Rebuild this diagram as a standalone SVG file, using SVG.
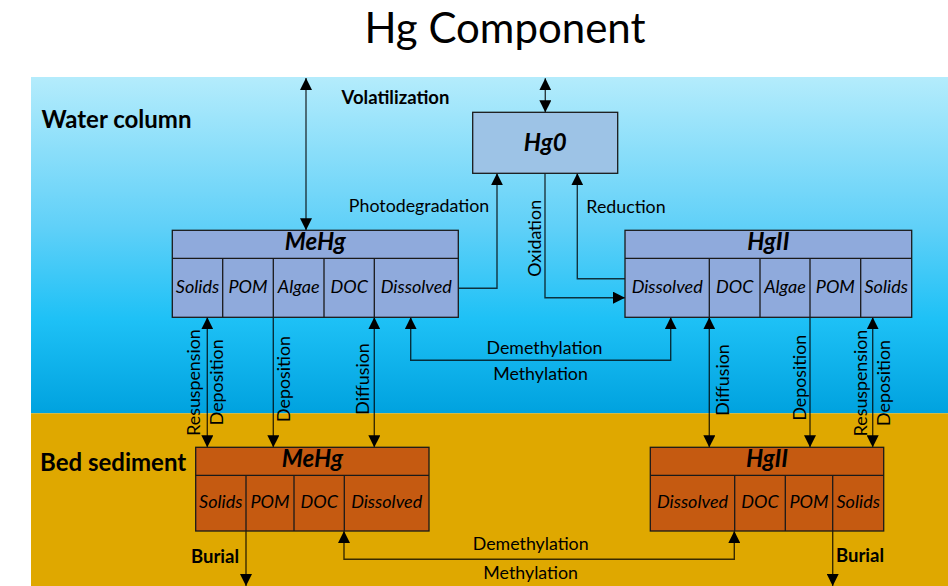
<svg xmlns="http://www.w3.org/2000/svg" width="948" height="586" viewBox="0 0 948 586">
  <defs>
    <linearGradient id="water" x1="0" y1="0" x2="0" y2="1">
      <stop offset="0" stop-color="#b4ecfc"/>
      <stop offset="0.45" stop-color="#5fd0f8"/>
      <stop offset="0.72" stop-color="#1ec1f6"/>
      <stop offset="1" stop-color="#00a2df"/>
    </linearGradient>
    <marker id="arr" markerUnits="userSpaceOnUse" markerWidth="12" markerHeight="12" refX="12" refY="6" orient="auto-start-reverse" viewBox="0 0 12 12">
      <path d="M0,0 L12,6 L0,12 Z" fill="#000"/>
    </marker>
    <style>
      .t { font-family: Lato, "Liberation Sans", sans-serif; fill: #000; }
      .title { font-size: 42px; }
      .zone { font-size: 24px; font-weight: bold; }
      .bold { font-size: 18.5px; font-weight: bold; }
      .lab { font-size: 17.8px; }
      .cell { font-size: 18px; font-style: italic; }
      .head { font-size: 24px; font-weight: bold; font-style: italic; }
      .box { stroke: #1a1a1a; stroke-width: 1.3; }
      .wbox { fill: #8faadc; }
      .sbox { fill: #c55a11; }
      .div { stroke: #1a1a1a; stroke-width: 1.3; fill: none; }
      .ln { fill: none; stroke: #000; stroke-opacity: 0.75; stroke-width: 1.4; }
      .two { marker-start: url(#arr); marker-end: url(#arr); }
      .one { marker-end: url(#arr); }
    </style>
  </defs>

  <rect x="0" y="0" width="948" height="586" fill="#ffffff"/>
  <text class="t title" x="505" y="43" text-anchor="middle">Hg Component</text>

  <!-- water column and bed sediment layers -->
  <rect x="31" y="77" width="917" height="336.3" fill="url(#water)"/>
  <rect x="31" y="413.3" width="917" height="173" fill="#dfa800"/>
  <text class="t zone" x="41.5" y="128.3">Water column</text>
  <text class="t zone" x="40" y="470.7">Bed sediment</text>

  <!-- process connectors -->
  <g id="connectors">
    <path class="ln two" d="M306,78 V230.3"/>
    <path class="ln two" d="M545.3,78.3 V112.3"/>
    <path class="ln one" d="M458.3,288.3 H497 V173.3"/>
    <path class="ln one" d="M545,173.3 V297.7 H625"/>
    <path class="ln one" d="M625,278.7 H577.3 V173.3"/>
    <path class="ln two" d="M670.7,317.3 V360.3 H410.7 V317.3"/>
    <path class="ln two" d="M207.3,317.3 V447.3"/>
    <path class="ln one" d="M273.3,317.3 V447.3"/>
    <path class="ln two" d="M374.3,317.3 V447.3"/>
    <path class="ln two" d="M709.3,317.3 V447.3"/>
    <path class="ln one" d="M810,317.3 V447.3"/>
    <path class="ln two" d="M872.7,317.3 V447.3"/>
    <path class="ln one" d="M246,531 V586"/>
    <path class="ln one" d="M832.7,531 V586"/>
    <path class="ln two" d="M734.3,531 V559.3 H344 V531"/>

    <text class="t bold" x="395.5" y="104.3" text-anchor="middle">Volatilization</text>
    <text class="t lab" x="419" y="212" text-anchor="middle">Photodegradation</text>
    <text class="t lab" x="626" y="213.3" text-anchor="middle">Reduction</text>
    <text class="t lab" transform="translate(541,238.3) rotate(-90)" text-anchor="middle">Oxidation</text>
    <text class="t lab" x="544.5" y="354" text-anchor="middle">Demethylation</text>
    <text class="t lab" x="540.5" y="380" text-anchor="middle">Methylation</text>
    <text class="t lab" x="530.7" y="550" text-anchor="middle">Demethylation</text>
    <text class="t lab" x="530.7" y="579.3" text-anchor="middle">Methylation</text>

    <text class="t lab" transform="translate(199.5,382.5) rotate(-90)" text-anchor="middle">Resuspension</text>
    <text class="t lab" transform="translate(222.5,382.3) rotate(-90)" text-anchor="middle">Deposition</text>
    <text class="t lab" transform="translate(290,379) rotate(-90)" text-anchor="middle">Deposition</text>
    <text class="t lab" transform="translate(369,379) rotate(-90)" text-anchor="middle">Diffusion</text>
    <text class="t lab" transform="translate(729,380) rotate(-90)" text-anchor="middle">Diffusion</text>
    <text class="t lab" transform="translate(805.5,377.7) rotate(-90)" text-anchor="middle">Deposition</text>
    <text class="t lab" transform="translate(866.5,383) rotate(-90)" text-anchor="middle">Resuspension</text>
    <text class="t lab" transform="translate(889.5,383) rotate(-90)" text-anchor="middle">Deposition</text>

    <text class="t bold" x="191" y="562.7">Burial</text>
    <text class="t bold" x="836" y="561.7">Burial</text>
  </g>

  <!-- elemental mercury -->
  <g id="hg0">
    <rect class="box" x="472.7" y="112.3" width="145" height="61" fill="#9dc3e6"/>
    <text class="t head" x="545.2" y="151" text-anchor="middle">Hg0</text>
  </g>

  <!-- methylmercury in the water column -->
  <g id="mehg-water">
    <rect class="box wbox" x="172.3" y="230.3" width="286" height="87"/>
    <path class="div" d="M172.3,258.3 H458.3 M222.7,258.3 V317.3 M273.3,258.3 V317.3 M324,258.3 V317.3 M374.3,258.3 V317.3"/>
    <text class="t head" x="315.3" y="249.5" text-anchor="middle">MeHg</text>
    <text class="t cell" x="197.5" y="292.7" text-anchor="middle">Solids</text>
    <text class="t cell" x="248" y="292.7" text-anchor="middle">POM</text>
    <text class="t cell" x="298.7" y="292.7" text-anchor="middle">Algae</text>
    <text class="t cell" x="349.2" y="292.7" text-anchor="middle">DOC</text>
    <text class="t cell" x="416.3" y="292.7" text-anchor="middle">Dissolved</text>
  </g>

  <!-- divalent mercury in the water column -->
  <g id="hgii-water">
    <rect class="box wbox" x="625" y="230.3" width="286.7" height="87"/>
    <path class="div" d="M625,258.3 H911.7 M709.3,258.3 V317.3 M760,258.3 V317.3 M810,258.3 V317.3 M860.7,258.3 V317.3"/>
    <text class="t head" x="768.3" y="249.5" text-anchor="middle">HgII</text>
    <text class="t cell" x="667.2" y="292.7" text-anchor="middle">Dissolved</text>
    <text class="t cell" x="734.7" y="292.7" text-anchor="middle">DOC</text>
    <text class="t cell" x="785" y="292.7" text-anchor="middle">Algae</text>
    <text class="t cell" x="835.3" y="292.7" text-anchor="middle">POM</text>
    <text class="t cell" x="886.2" y="292.7" text-anchor="middle">Solids</text>
  </g>

  <!-- methylmercury in the bed sediment -->
  <g id="mehg-sediment">
    <rect class="box sbox" x="195.7" y="447.3" width="233.3" height="83.7"/>
    <path class="div" d="M195.7,475.3 H429 M246,475.3 V531 M294,475.3 V531 M344.3,475.3 V531"/>
    <text class="t head" x="312.4" y="467.3" text-anchor="middle">MeHg</text>
    <text class="t cell" x="220.8" y="507.7" text-anchor="middle">Solids</text>
    <text class="t cell" x="270" y="507.7" text-anchor="middle">POM</text>
    <text class="t cell" x="319.2" y="507.7" text-anchor="middle">DOC</text>
    <text class="t cell" x="386.7" y="507.7" text-anchor="middle">Dissolved</text>
  </g>

  <!-- divalent mercury in the bed sediment -->
  <g id="hgii-sediment">
    <rect class="box sbox" x="650.3" y="447.3" width="233.4" height="83.7"/>
    <path class="div" d="M650.3,475.3 H883.7 M734.7,475.3 V531 M785.3,475.3 V531 M832.7,475.3 V531"/>
    <text class="t head" x="767" y="467.3" text-anchor="middle">HgII</text>
    <text class="t cell" x="692.5" y="507.7" text-anchor="middle">Dissolved</text>
    <text class="t cell" x="760" y="507.7" text-anchor="middle">DOC</text>
    <text class="t cell" x="809" y="507.7" text-anchor="middle">POM</text>
    <text class="t cell" x="858.2" y="507.7" text-anchor="middle">Solids</text>
  </g>
</svg>
